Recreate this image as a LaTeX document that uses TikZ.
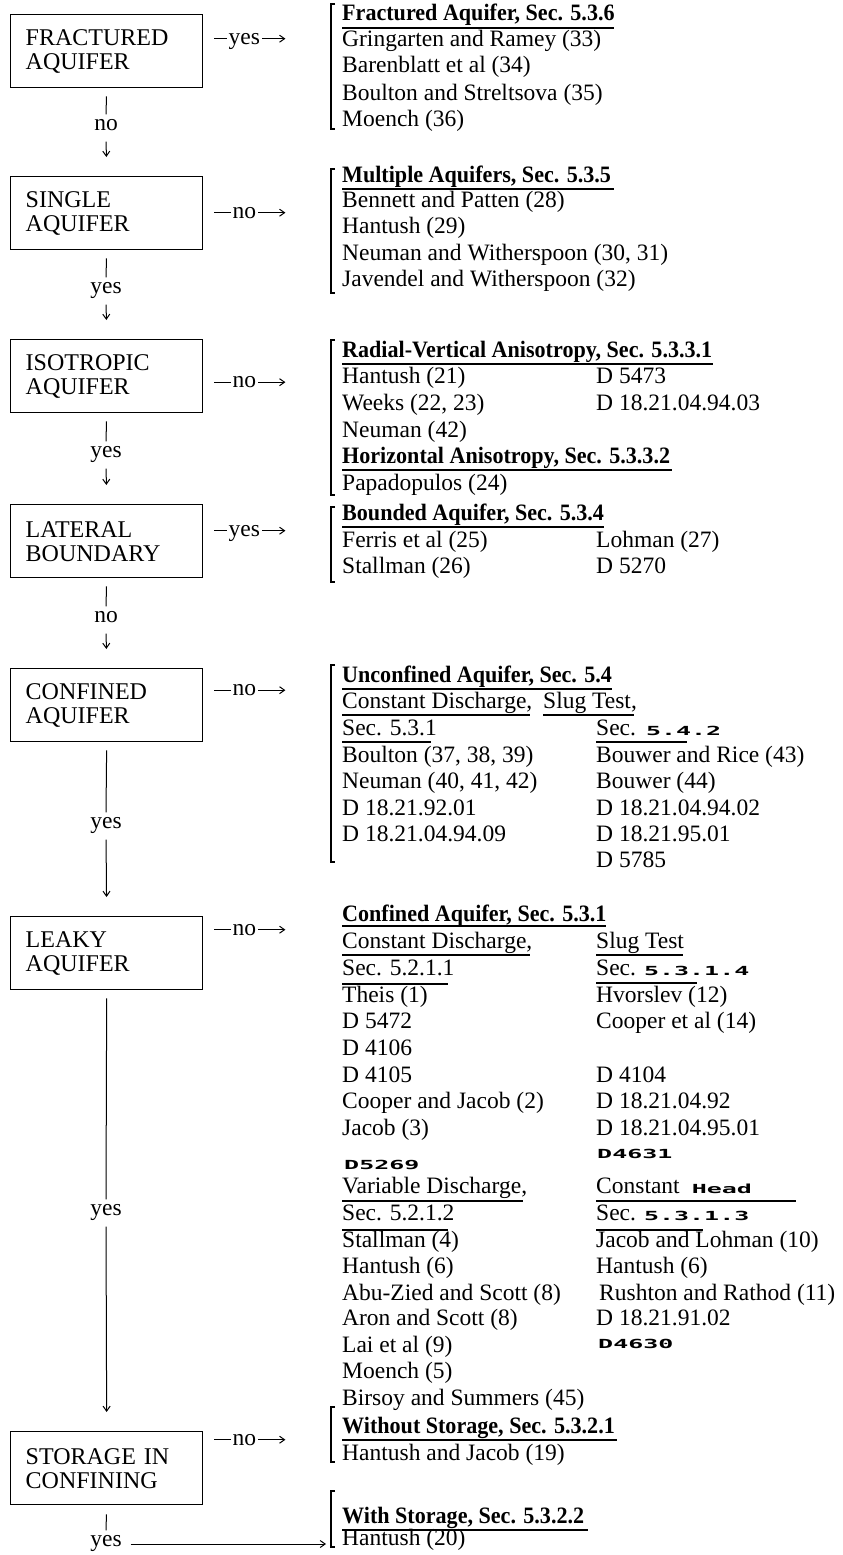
\documentclass[tikz,border=0pt]{standalone}
\usepackage{fontspec}
\setmainfont{Liberation Serif}[BoldFeatures={FakeStretch=0.94}]
\newfontfamily\typedfont{DejaVu Sans Mono}[FakeStretch=2.0]
\newcommand{\tw}[1]{{\typedfont\bfseries\fontsize{12.5}{13}\selectfont #1}}
\usetikzlibrary{arrows.meta}
\begin{document}
\begin{tikzpicture}[x=1pt,y=-1pt,
  font=\fontsize{23.5}{26}\selectfont,
  box/.style={draw, line width=1.4pt, minimum width=192pt, minimum height=73pt,
    text width=162pt, align=left, inner xsep=15pt, anchor=north west,
    font=\fontsize{24}{24}\selectfont},
  ref/.style={anchor=base west, inner sep=0pt},
  hd/.style={ref, font=\fontsize{23.5}{26}\selectfont\bfseries},
  hul/.style={line width=1.8pt},
  sul/.style={line width=1.3pt},
  brk/.style={line width=1.1pt},
  conn/.style={line width=1pt},
  arr/.style={conn, -{Straight Barb[length=5pt,width=7pt]}},
  lbl/.style={inner sep=0pt, outer sep=5pt, text depth=0pt},
  hlbl/.style={fill=white, inner xsep=1.5pt, inner ysep=0pt, text depth=0pt},
]
\useasboundingbox (0,0) rectangle (843,1555);

% ---------------- decision boxes ----------------
\node[box] (b1) at (10,14)   {FRACTURED\\AQUIFER};
\node[box] (b2) at (10,176)  {SINGLE\\AQUIFER};
\node[box] (b3) at (10,339)  {ISOTROPIC\\AQUIFER};
\node[box] (b4) at (10,504)  {LATERAL\\BOUNDARY};
\node[box] (b5) at (10,668)  {CONFINED\\AQUIFER};
\node[box] (b6) at (10,916)  {LEAKY\\AQUIFER};
\node[box] (b7) at (10,1431) {STORAGE IN\\CONFINING};

% ---------------- vertical connectors ----------------
\node[lbl] (v1) at (106,125)  {no};
\node[lbl] (v2) at (106,288)  {yes};
\node[lbl] (v3) at (106,452)  {yes};
\node[lbl] (v4) at (106,617)  {no};
\node[lbl] (v5) at (106,823)  {yes};
\node[lbl] (v6) at (106,1210) {yes};
\node[lbl] (v7) at (106,1541) {yes};

\foreach \a/\l/\b in {b1/v1/b2, b2/v2/b3, b3/v3/b4, b4/v4/b5, b5/v5/b6, b6/v6/b7}{
  \draw[conn, shorten <=8pt] (\a.south) -- (\l.north);
  \draw[arr, shorten <=6pt, shorten >=19pt] (\l.south) -- (\b.north);
}
\draw[conn, shorten <=9pt] (b7.south) -- (v7.north);
\coordinate (e7) at (326,1544);
\draw[arr, shorten <=4pt] (v7.east |- e7) -- (e7);

% ---------------- horizontal connectors ----------------
\draw[arr, shorten <=11pt] ([yshift=12.5pt]b1.east) -- node[hlbl]{yes} ++(82,0);
\draw[arr, shorten <=11pt] ([yshift=0.5pt]b2.east)  -- node[hlbl]{no}  ++(82,0);
\draw[arr, shorten <=11pt] ([yshift=-6pt]b3.east)   -- node[hlbl]{no}  ++(82,0);
\draw[arr, shorten <=11pt] ([yshift=10.5pt]b4.east) -- node[hlbl]{yes} ++(82,0);
\draw[arr, shorten <=11pt] ([yshift=15pt]b5.east)   -- node[hlbl]{no}  ++(82,0);
\draw[arr, shorten <=11pt] ([yshift=23.5pt]b6.east) -- node[hlbl]{no}  ++(82,0);
\draw[arr, shorten <=11pt] ([yshift=28.5pt]b7.east) -- node[hlbl]{no}  ++(82,0);

% ---------------- brackets ----------------
\foreach \t/\bt in {4/129, 169/293, 340/495, 507/582, 665/862, 1407/1462, 1491/1547}{
  \draw[brk] (335,\t) -- (331,\t) -- (331,\bt) -- (335,\bt);
}

% ---------------- group 1 ----------------
\node[hd]  (g1h) at (342,21)  {Fractured Aquifer, Sec. 5.3.6};
\draw[hul] (342,28) -- (614,28);
\node[ref] (g1a) at (342,47)  {Gringarten and Ramey (33)};
\node[ref] (g1b) at (342,73)  {Barenblatt et al (34)};
\node[ref] (g1c) at (342,100) {Boulton and Streltsova (35)};
\node[ref] (g1d) at (342,126) {Moench (36)};

% ---------------- group 2 ----------------
\node[hd]  (g2h) at (342,182) {Multiple Aquifers, Sec. 5.3.5};
\draw[hul] (342,189) -- (614,189);
\node[ref] (g2a) at (342,207) {Bennett and Patten (28)};
\node[ref] (g2b) at (342,233) {Hantush (29)};
\node[ref] (g2c) at (342,260) {Neuman and Witherspoon (30, 31)};
\node[ref] (g2d) at (342,286) {Javendel and Witherspoon (32)};

% ---------------- group 3 ----------------
\node[hd]  (g3h) at (342,357) {Radial-Vertical Anisotropy, Sec. 5.3.3.1};
\draw[hul] (342,364) -- (713,364);
\node[ref] (g3a) at (342,383) {Hantush (21)};
\node[ref] (g3b) at (596,383) {D 5473};
\node[ref] (g3c) at (342,410) {Weeks (22, 23)};
\node[ref] (g3d) at (596,410) {D 18.21.04.94.03};
\node[ref] (g3e) at (342,437) {Neuman (42)};
\node[hd]  (g3f) at (342,463) {Horizontal Anisotropy, Sec. 5.3.3.2};
\draw[hul] (342,470) -- (672,470);
\node[ref] (g3g) at (342,490) {Papadopulos (24)};

% ---------------- group 4 ----------------
\node[hd]  (g4h) at (342,520) {Bounded Aquifer, Sec. 5.3.4};
\draw[hul] (342,527) -- (604,527);
\node[ref] (g4a) at (342,547) {Ferris et al (25)};
\node[ref] (g4b) at (596,547) {Lohman (27)};
\node[ref] (g4c) at (342,573) {Stallman (26)};
\node[ref] (g4d) at (596,573) {D 5270};

% ---------------- group 5 ----------------
\node[hd]  (g5h) at (342,682) {Unconfined Aquifer, Sec. 5.4};
\draw[hul] (342,689) -- (612,689);
\node[ref] (g5a) at (342,708) {Constant Discharge,};
\node[ref] (g5b) at (543,708) {Slug Test,};
\draw[sul] (342,715) -- (530,715);
\draw[sul] (543,715) -- (634,715);
\node[ref] (g5c) at (342,735) {Sec. 5.3.1};
\node[ref] (g5d) at (596,735) {Sec.\hspace{10pt}\tw{5.4.2}};
\draw[sul] (342,742) -- (431,742);
\draw[sul] (596,742) -- (687,742);
\node[ref] (g5e) at (342,762) {Boulton (37, 38, 39)};
\node[ref] (g5f) at (596,762) {Bouwer and Rice (43)};
\node[ref] (g5g) at (342,788) {Neuman (40, 41, 42)};
\node[ref] (g5i) at (596,788) {Bouwer (44)};
\node[ref] (g5j) at (342,815) {D 18.21.92.01};
\node[ref] (g5k) at (596,815) {D 18.21.04.94.02};
\node[ref] (g5l) at (342,841) {D 18.21.04.94.09};
\node[ref] (g5m) at (596,841) {D 18.21.95.01};
\node[ref] (g5n) at (596,867) {D 5785};

% ---------------- group 6 ----------------
\node[hd]  (g6h) at (342,921) {Confined Aquifer, Sec. 5.3.1};
\draw[hul] (342,926) -- (606,926);
\node[ref] (g6a) at (342,948) {Constant Discharge,};
\node[ref] (g6b) at (596,948) {Slug Test};
\draw[sul] (342,955) -- (530,955);
\draw[sul] (596,955) -- (683,955);
\node[ref] (g6c) at (342,975) {Sec. 5.2.1.1};
\node[ref] (g6d) at (596,975) {Sec.\hspace{8pt}\tw{5.3.1.4}};
\draw[sul] (342,984) -- (448,984);
\draw[sul] (596,983) -- (697,983);
\node[ref] (g6e) at (342,1002) {Theis (1)};
\node[ref] (g6f) at (596,1002) {Hvorslev (12)};
\node[ref] (g6g) at (342,1028) {D 5472};
\node[ref] (g6i) at (596,1028) {Cooper et al (14)};
\node[ref] (g6j) at (342,1055) {D 4106};
\node[ref] (g6k) at (342,1082) {D 4105};
\node[ref] (g6l) at (596,1082) {D 4104};
\node[ref] (g6m) at (342,1108) {Cooper and Jacob (2)};
\node[ref] (g6n) at (596,1108) {D 18.21.04.92};
\node[ref] (g6o) at (342,1135) {Jacob (3)};
\node[ref] (g6p) at (596,1135) {D 18.21.04.95.01};
\node[ref] (g6q) at (597,1158) {\tw{D4631}};
\node[ref] (g6r) at (344,1169) {\tw{D5269}};
\node[ref] (g6s) at (342,1193) {Variable Discharge,};
\node[ref] (g6t) at (596,1193) {Constant\hspace{12pt}\tw{Head}};
\draw[sul] (342,1201) -- (523,1201);
\draw[sul] (596,1201) -- (796,1201);
\node[ref] (g6u) at (342,1220) {Sec. 5.2.1.2};
\node[ref] (g6v) at (596,1220) {Sec.\hspace{8pt}\tw{5.3.1.3}};
\draw[sul] (342,1230) -- (448,1230);
\draw[sul] (596,1230) -- (703,1230);
\node[ref] (g6w) at (342,1247) {Stallman (4)};
\node[ref] (g6x) at (596,1247) {Jacob and Lohman (10)};
\node[ref] (g6y) at (342,1273) {Hantush (6)};
\node[ref] (g6z) at (596,1273) {Hantush (6)};
\node[ref] (g6A) at (342,1300) {Abu-Zied and Scott (8)};
\node[ref] (g6B) at (599,1300) {Rushton and Rathod (11)};
\node[ref] (g6C) at (342,1325) {Aron and Scott (8)};
\node[ref] (g6D) at (596,1325) {D 18.21.91.02};
\node[ref] (g6E) at (342,1352) {Lai et al (9)};
\node[ref] (g6F) at (598,1348) {\tw{D4630}};
\node[ref] (g6G) at (342,1378) {Moench (5)};
\node[ref] (g6H) at (342,1405) {Birsoy and Summers (45)};

% ---------------- group 7 ----------------
\node[hd]  (g7h) at (342,1433) {Without Storage, Sec. 5.3.2.1};
\draw[hul] (342,1440) -- (617,1440);
\node[ref] (g7a) at (342,1460) {Hantush and Jacob (19)};

% ---------------- group 8 ----------------
\node[hd]  (g8h) at (342,1523) {With Storage, Sec. 5.3.2.2};
\draw[hul] (342,1530) -- (588,1530);
\node[ref] (g8a) at (342,1545) {Hantush (20)};
\end{tikzpicture}
\end{document}
